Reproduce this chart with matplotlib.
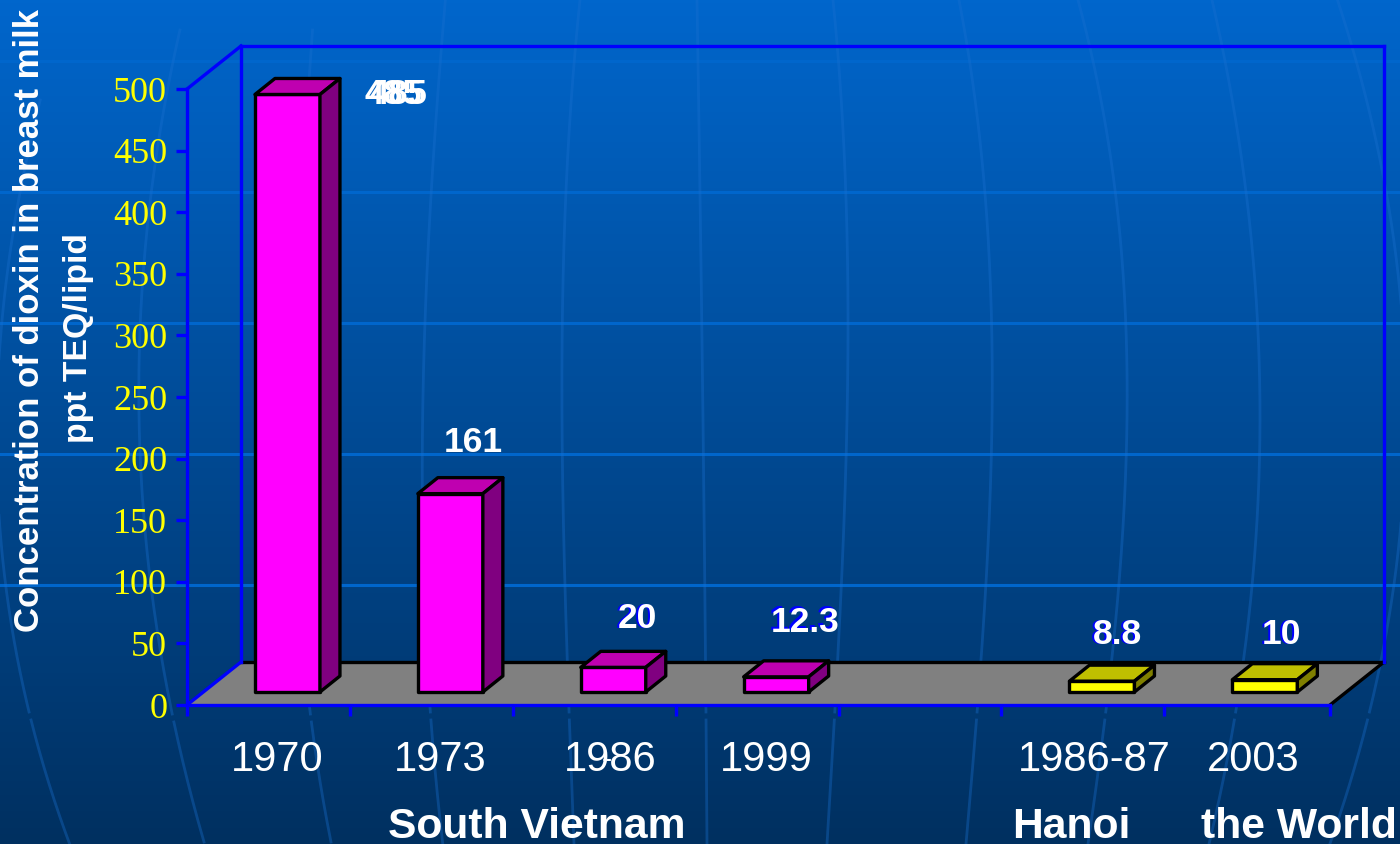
import matplotlib
matplotlib.use('Agg')
import matplotlib.pyplot as plt
import numpy as np
from matplotlib.colors import LinearSegmentedColormap
from matplotlib.patches import Polygon

W, H = 1400, 844

categories = ['1970', '1973', '1986', '1999', '', '1986-87', '2003']
values = [485, 161, 20, 12.3, None, 8.8, 10]
value_labels = ['485', '161', '20', '12.3', '', '8.8', '10']
bar_groups = ['sv', 'sv', 'sv', 'sv', None, 'other', 'other']
group_names = ['South Vietnam', 'Hanoi', 'the World']
y_ticks = [0, 50, 100, 150, 200, 250, 300, 350, 400, 450, 500]

# pixel placement of the hand-placed slide text
label_x = [277, 440, 610, 766, None, 1094, 1253]
value_xy = [(395, 95), (473, 443), (637, 619), (805, 622), None, (1117, 635), (1282, 635)]
group_x = [537, 1071, 1299]

# background globe lines, pixel coordinates
h_lines = [61, 192, 323, 454, 585]
meridians = [
    [(40, 100), (5, 300), (0, 553), (20, 670), (31, 713), (69, 844)],
    [(180, 30), (145, 250), (138, 420), (143, 487), (154, 603), (170, 710), (205, 844)],
    [(313, 30), (300, 200), (296, 400), (300, 600), (308, 707), (332, 844)],
    [(445, 0), (430, 250), (420, 420), (432, 710), (442, 844)],
    [(580, 0), (562, 420), (569, 710), (574, 844)],
    [(697, 0), (703, 420), (707, 844)],
    [(833, 0), (847, 420), (838, 653), (827, 844)],
    [(959, 0), (992, 420), (981, 660), (966, 844)],
    [(1078, 0), (1127, 420), (1106, 710), (1088, 844)],
    [(1212, 0), (1260, 420), (1236, 710), (1209, 844)],
    [(1338, 0), (1385, 200), (1408, 350), (1400, 513), (1370, 710), (1330, 844)],
]

fig = plt.figure(figsize=(W / 100, H / 100), dpi=100)

bg = fig.add_axes([0, 0, 1, 1], zorder=0)
cmap = LinearSegmentedColormap.from_list('slide', ['#0066cc', '#004b96', '#003060'])
bg.imshow(np.linspace(0, 1, 256).reshape(-1, 1), aspect='auto', cmap=cmap, extent=[0, W, H, 0])
for yy in h_lines:
    bg.plot([0, W], [yy, yy], color='#0066cc', lw=2.2)
for m in meridians:
    my = np.array([p[1] for p in m], dtype=float)
    mx = np.array([p[0] for p in m], dtype=float)
    # smooth the read-off points, the lines are arcs of a globe
    yy = np.arange(my.min(), my.max() + 1, 4.0)
    xx = np.polyval(np.polyfit(my, mx, 3 if len(m) > 3 else 2), yy)
    xx[(yy > 714) & (yy < 720)] = np.nan
    bg.plot(xx, yy, color='#1a70d0', lw=2, alpha=0.36)
bg.set_xlim(0, W)
bg.set_ylim(H, 0)
bg.axis('off')

# plot box 187..1330 x 89..705 px, one category slot is about 163 px wide
slot_px = 162.9
xmax = (1330 - 187) / slot_px
ax = fig.add_axes([187 / W, 1 - 705 / H, (1330 - 187) / W, (705 - 89) / H], zorder=1)
ax.patch.set_visible(False)
ax.set_xlim(0, xmax)
ax.set_ylim(0, 500)

sx = 1 / slot_px   # data units per pixel
sy = 500 / (705 - 89)
dx, dy = 54 * sx, 43 * sy

floor = Polygon([(0, 0), (xmax, 0), (xmax + dx, dy), (dx, dy)], closed=True, fc='#808080', ec='none',
                clip_on=False, zorder=1)
ax.add_patch(floor)
ax.plot([dx, xmax + dx], [dy, dy], color='black', lw=2.4, clip_on=False, zorder=2)
ax.plot([xmax, xmax + dx], [0, dy], color='black', lw=2.4, clip_on=False, zorder=2)
for xs, ys in [([0, dx], [0, dy]), ([0, dx], [500, 500 + dy]), ([dx, dx], [dy, 500 + dy]),
               ([dx, xmax + dx], [500 + dy, 500 + dy]), ([xmax + dx, xmax + dx], [dy, 500 + dy])]:
    ax.plot(xs, ys, color='#0000ff', lw=2.4, clip_on=False, zorder=2, solid_capstyle='projecting')

bar_w = 65 * sx
bar_off = 19 * sx
base = 13 * sy
side_x, side_y = 20 * sx, 16 * sy
colors = {'sv': ('#ff00ff', '#bf00b0', '#800080'), 'other': ('#ffff00', '#bfbf00', '#808000')}
for i, val in enumerate(values):
    if val is None:
        continue
    front, top, side = colors[bar_groups[i]]
    x0 = i + 0.5 + bar_off - bar_w / 2
    x1 = x0 + bar_w
    y1 = base + val
    pieces = [
        ([(x0, base), (x1, base), (x1, y1), (x0, y1)], front),
        ([(x0, y1), (x1, y1), (x1 + side_x, y1 + side_y), (x0 + side_x, y1 + side_y)], top),
        ([(x1, base), (x1 + side_x, base + side_y), (x1 + side_x, y1 + side_y), (x1, y1)], side),
    ]
    for pts, c in pieces:
        ax.add_patch(Polygon(pts, closed=True, fc=c, ec='black', lw=2.4, joinstyle='round', clip_on=False, zorder=3))

for s in ['top', 'right']:
    ax.spines[s].set_visible(False)
for s in ['left', 'bottom']:
    ax.spines[s].set_color('#0000ff')
    ax.spines[s].set_linewidth(2.4)
    ax.spines[s].set_zorder(4)
ax.set_xticks(list(range(7)) + [xmax])
ax.set_xticklabels([])
ax.set_yticks(y_ticks)
ax.set_yticklabels([str(v) for v in y_ticks], family='Liberation Serif', fontsize=26, color='#ffff00')
ax.tick_params(axis='both', color='#0000ff', width=2.4, length=8.2)
ax.tick_params(axis='y', pad=6)


def put(x, y, s, **kw):
    kw.setdefault('ha', 'center')
    kw.setdefault('va', 'center')
    kw.setdefault('zorder', 10)
    return fig.text(x / W, 1 - y / H, s, **kw)


for cat, x in zip(categories, label_x):
    if x is not None:
        put(x, 760, cat, family='Liberation Sans', fontsize=30, color='white')
put(607, 760, '-', family='Liberation Sans', fontsize=22, color='white')

for name, x in zip(group_names, group_x):
    put(x, 827, name, family='Liberation Sans', fontsize=30.7, weight='bold', color='white')

for i, (lab, xy) in enumerate(zip(value_labels, value_xy)):
    if xy is None:
        continue
    x, y = xy
    if lab == '485':
        put(x + 3, y, lab, family='Liberation Sans', fontsize=25, weight='bold', color='white')
        put(x - 2, y, lab, family='Liberation Sans', fontsize=25, weight='bold', color='white')
    elif lab == '161':
        put(x, y, lab, family='Liberation Sans', fontsize=25.5, weight='bold', color='white')
    else:
        put(x - 2, y - 1, lab, family='Liberation Sans', fontsize=25.5, weight='bold', color='#0000ff')
        put(x, y, lab, family='Liberation Sans', fontsize=25.5, weight='bold', color='white')

put(30, 321, 'Concentration of dioxin in breast milk', family='Liberation Sans', fontsize=25,
    weight='bold', color='white', rotation=90)
put(78, 338, 'ppt TEQ/lipid', family='Liberation Sans', fontsize=24.3,
    weight='bold', color='white', rotation=90)

fig.savefig('out.png', dpi=100)
